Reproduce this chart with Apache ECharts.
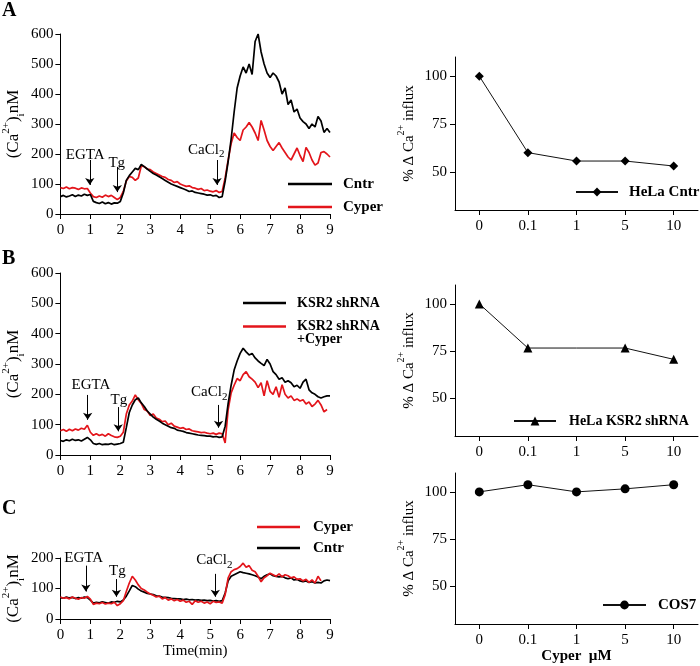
<!DOCTYPE html>
<html><head><meta charset="utf-8">
<script src="https://cdn.jsdelivr.net/npm/echarts@6/dist/echarts.min.js"></script>
<style>html,body{margin:0;padding:0;background:#fff}#c{width:700px;height:666px}</style>
</head><body><div id="c"></div>
<script>
// ---------- DATA ----------
const times = [0,0.1,0.2,0.3,0.4,0.5,0.6,0.7,0.8,0.9,1.0,1.1,1.2,1.3,1.4,1.5,1.6,1.7,1.8,1.9,2.0,2.1,2.2,2.3,2.4,2.5,2.6,2.7,2.8,2.9,3.0,3.1,3.2,3.3,3.4,3.5,3.6,3.7,3.8,3.9,4.0,4.1,4.2,4.3,4.4,4.5,4.6,4.7,4.8,4.9,5.0,5.1,5.2,5.3,5.4,5.5,5.6,5.7,5.8,5.9,6.0,6.1,6.2,6.3,6.4,6.5,6.6,6.7,6.8,6.9,7.0,7.1,7.2,7.3,7.4,7.5,7.6,7.7,7.8,7.9,8.0,8.1,8.2,8.3,8.4,8.5,8.6,8.7,8.8,8.9,9.0];

// Panel A traces (nM)
const aCntr = [58,62,57,60,64,58,63,60,66,62,65, 42,38,35,40,34,38,33,37,36,42, 70,112,128,140,152,148,165,158,150,142, 135,130,124,118,112,106,100,96,92,88, 84,80,75,77,72,70,68,66,63,64, 60,62,55,58,110,175,250,340,420,460, 490,470,500,465,575,600,540,500,470,455, 470,460,440,400,420,365,380,340,350,320, 308,300,285,300,290,325,310,272,285,272];
const aCyper = [88,85,90,84,88,86,82,87,84,85,70, 58,55,60,56,63,58,62,55,48,55, 75,110,125,122,112,120,160,158,150,148, 140,135,130,125,122,115,112,105,108,100, 96,92,94,88,86,82,85,78,80,76, 74,78,72,75,120,180,235,270,255,245, 280,290,305,290,270,245,312,280,245,225, 212,225,238,220,205,190,180,200,220,195, 175,222,205,180,163,170,205,208,200,190];

// Panel B traces (nM)
const bKsr = [48,45,50,47,52,48,50,46,52,58,50, 38,35,38,34,36,35,38,34,36,38, 42,90,140,165,182,188,172,160,145,135, 125,118,112,105,100,95,90,88,82,80, 78,74,72,70,68,66,65,64,62,62, 60,61,58,60,95,170,230,280,310,335, 352,340,330,335,320,310,302,295,315,300, 275,265,250,255,240,245,238,225,230,220, 240,250,215,205,200,192,188,192,195,195];
const bKsrCyper = [80,84,78,85,80,86,82,88,85,98,75, 65,70,64,68,62,70,64,60,58,62, 75,135,165,178,198,182,170,150,145,130, 135,122,118,110,112,100,105,95,92,88, 90,84,86,80,78,76,74,75,72,70, 72,68,72,70,40,150,205,230,252,245, 265,275,258,250,240,222,238,195,245,210, 200,225,190,232,200,188,195,180,185,178, 182,168,175,160,168,180,165,142,150];

// Panel C traces (nM)
const cCyper = [72,68,70,66,72,68,65,70,68,74,65, 48,52,50,54,49,52,50,55,44,50, 60,90,118,140,128,112,100,95,88,82, 78,72,75,66,70,62,66,60,64,58, 62,55,58,48,60,55,58,52,56,50, 58,54,56,52,80,135,155,162,165,172, 183,170,175,160,155,140,122,135,142,150, 145,140,148,138,145,142,135,138,130,132, 125,130,120,128,118,140,125];
const cCntr = [70,68,72,69,71,67,70,68,72,70,62, 52,55,53,56,54,52,56,55,58,56, 62,75,92,110,106,98,92,88,84,82, 80,76,75,72,71,70,68,67,66,66, 64,65,63,64,62,63,61,62,60,61, 59,60,58,60,85,125,140,145,150,155, 152,150,148,145,142,138,132,140,145,148, 142,140,138,140,135,132,135,128,130,125, 122,125,120,122,118,120,118,125,128,126];

// Dose-response panels (% Δ Ca2+ influx)
const doses = ['0','0.1','1','5','10'];
const helaCntr = [100, 60, 55.6, 55.6, 53];
const helaKsr2 = [100, 76.6, 76.6, 76.6, 70.6];
const cos7 = [100, 103.8, 100, 101.6, 103.8];

// Right-panel tick values
const rightTicks = [50,75,100];

// Annotations: text, label position [t, nM], arrow [t, from, to]
const annText = ['EGTA', 'Tg', 'CaCl{s|2}'];
const annA = [[0.83,197],[1.88,170],[4.87,213]];
const arrA = [[0.98,180,97],[1.9,157,73],[5.23,180,97]];
const annB = [[1.02,231],[1.95,181],[4.97,207]];
const arrB = [[0.91,198,116],[1.93,158,78],[5.28,165,90]];
const annC = [[0.78,201],[1.9,157],[5.14,193]];
const arrC = [[0.85,175,90],[1.87,131,73],[5.17,148,73]];

// ---------- CHART ----------
const FONT = "'Liberation Serif','Times New Roman',serif";
const RED = '#e3151b';
const chart = echarts.init(document.getElementById('c'), null, {renderer:'canvas'});

const grids = [
  {left:57.5, top:34, width:272.5, height:180},   // A left
  {left:455, top:57, width:243, height:153},       // A right
  {left:57.5, top:273, width:272.5, height:182},  // B left
  {left:455, top:285, width:243, height:151},      // B right
  {left:57.5, top:558, width:272.5, height:61},   // C left
  {left:455, top:473, width:243, height:151}       // C right
];

const axLine = {show:true, lineStyle:{color:'#000', width:1}};
const axTick = {show:true, length:5, lineStyle:{color:'#000', width:1}};
const lbl = {color:'#000', fontFamily:FONT, fontSize:15};
function supRich(sz){
  return {
    p:{fontSize:sz, lineHeight:sz, verticalAlign:'top', fontFamily:FONT, color:'#000'},
    b:{fontSize:sz, lineHeight:sz, verticalAlign:'bottom', fontFamily:FONT, color:'#000'}
  };
}

function leftX(gi, name){
  const o = {type:'value', gridIndex:gi, min:0, max:9, interval:1,
    axisLine:axLine, axisTick:axTick, splitLine:{show:false},
    axisLabel:Object.assign({margin:9}, lbl)};
  if (name) { o.name = name; o.nameLocation='middle'; o.nameGap=24;
    o.nameTextStyle = {color:'#000', fontFamily:FONT, fontSize:15}; }
  return o;
}
function leftY(gi, max, gap){
  return {type:'value', gridIndex:gi, min:0, max:max, interval:100,
    axisLine:axLine, axisTick:axTick, splitLine:{show:false},
    axisLabel:Object.assign({margin:7}, lbl),
    name:'(Ca{p|2+}){b|i}nM', nameLocation:'middle', nameGap:gap,
    nameTextStyle:{color:'#000', fontFamily:FONT, fontSize:17, lineHeight:26, rich:supRich(11)}};
}
function rightX(gi, name){
  const o = {type:'category', gridIndex:gi, data:doses, boundaryGap:true,
    axisLine:axLine, axisTick:Object.assign({alignWithLabel:true}, axTick),
    splitLine:{show:false}, axisLabel:Object.assign({margin:9}, lbl)};
  if (name) { o.name = name; o.nameLocation='middle'; o.nameGap=25;
    o.nameTextStyle = {color:'#000', fontFamily:FONT, fontSize:15, fontWeight:'bold'}; }
  return o;
}
function rightY(gi){
  return {type:'value', gridIndex:gi, min:30, max:110,
    axisLine:axLine,
    axisTick:Object.assign({customValues:rightTicks}, axTick),
    splitLine:{show:false},
    axisLabel:Object.assign({margin:8, customValues:rightTicks}, lbl),
    name:'% Δ Ca{p|2+} influx', nameLocation:'middle', nameGap:27,
    nameTextStyle:{color:'#000', fontFamily:FONT, fontSize:15, lineHeight:24, rich:supRich(10)}};
}

function trace(name, vals, color, gi, z){
  return {type:'line', name:name, xAxisIndex:gi, yAxisIndex:gi,
    data: vals.map((v,i)=>[times[i], v]), symbol:'none', showSymbol:false,
    lineStyle:{color:color, width:1.7}, itemStyle:{color:color},
    silent:true, animation:false, z:z||2};
}
function dose(name, vals, sym, gi, hideIdx){
  return {type:'line', name:name, xAxisIndex:gi, yAxisIndex:gi,
    data: vals.map((v,i)=> (hideIdx===i ? {value:v, symbol:'none'} : v)),
    symbol:sym, symbolSize:9, showSymbol:true,
    lineStyle:{color:'#111', width:1}, itemStyle:{color:'#000'},
    silent:true, animation:false};
}
function annot(gi, pts, arrows){
  return {type:'scatter', xAxisIndex:gi, yAxisIndex:gi, symbolSize:1, clip:false,
    itemStyle:{color:'rgba(0,0,0,0)', opacity:1}, silent:true, animation:false, z:5,
    data: pts.map((p,i)=>({value:p, label:{formatter:annText[i]}})),
    label:{show:true, position:'inside', color:'#000', opacity:1, fontFamily:FONT, fontSize:15, lineHeight:20,
      rich:{s:{fontSize:11, lineHeight:11, verticalAlign:'bottom', fontFamily:FONT, color:'#000'}}},
    markLine:{silent:true, animation:false, symbol:['none','arrow'], symbolSize:7,
      lineStyle:{color:'#000', width:1, type:'solid', opacity:1}, label:{show:false},
      emphasis:{disabled:true},
      data: arrows.map(a=>[{coord:[a[0],a[1]]},{coord:[a[0],a[2]]}])}};
}

const legBase = {orient:'vertical', padding:0, selectedMode:false,
  textStyle:{color:'#000', fontFamily:FONT, fontWeight:'bold', fontSize:15, lineHeight:17, padding:[0,0,0,6]}};

const option = {
  animation:false,
  grid: grids,
  xAxis: [leftX(0), rightX(1), leftX(2), rightX(3), leftX(4,'Time(min)'), rightX(5,'Cyper  µM')],
  yAxis: [leftY(0,600,30), rightY(1), leftY(2,600,30), rightY(3), leftY(4,200,28), rightY(5)],
  legend: [
    Object.assign({}, legBase, {left:288, top:175.5, icon:'rect', itemWidth:44, itemHeight:2.5, itemGap:6,
      data:['Cntr','Cyper']}),
    Object.assign({}, legBase, {left:575, top:183.5, itemWidth:42, itemHeight:11, data:['HeLa Cntr']}),
    Object.assign({}, legBase, {left:243, top:294.5, icon:'rect', itemWidth:43, itemHeight:2.5,
      textStyle:Object.assign({}, legBase.textStyle, {fontSize:14}), data:['KSR2 shRNA']}),
    Object.assign({}, legBase, {left:243, top:306.5, icon:'rect', itemWidth:43, itemHeight:2.5,
      formatter:()=> ' \nKSR2 shRNA\n+Cyper',
      textStyle:Object.assign({}, legBase.textStyle, {fontSize:14, lineHeight:13}),
      data:['KSR2 shRNA +Cyper']}),
    Object.assign({}, legBase, {left:513, top:412.5, itemWidth:42, itemHeight:11,
      textStyle:Object.assign({}, legBase.textStyle, {fontSize:14, padding:[0,0,0,8]}), data:['HeLa KSR2 shRNA']}),
    Object.assign({}, legBase, {left:257, top:518.5, icon:'rect', itemWidth:43, itemHeight:2.5, itemGap:4,
      textStyle:Object.assign({}, legBase.textStyle, {padding:[0,0,0,8]}), data:['Cyper','Cntr']}),
    Object.assign({}, legBase, {left:602, top:596.5, itemWidth:43, itemHeight:11,
      textStyle:Object.assign({}, legBase.textStyle, {padding:[0,0,0,7]}), data:['COS7']})
  ],
  graphic: [
    {type:'text', left:2, top:1, style:{text:'A', font:"bold 20px 'Liberation Serif'", fill:'#000'}},
    {type:'text', left:2, top:249, style:{text:'B', font:"bold 20px 'Liberation Serif'", fill:'#000'}},
    {type:'text', left:2, top:499, style:{text:'C', font:"bold 20px 'Liberation Serif'", fill:'#000'}}
  ],
  series: [
    trace('Cyper', aCyper, RED, 0, 2),
    trace('Cntr', aCntr, '#000', 0, 3),
    annot(0, annA, arrA),
    dose('HeLa Cntr', helaCntr, 'diamond', 1),
    trace('KSR2 shRNA +Cyper', bKsrCyper, RED, 2, 2),
    trace('KSR2 shRNA', bKsr, '#000', 2, 3),
    annot(2, annB, arrB),
    dose('HeLa KSR2 shRNA', helaKsr2, 'triangle', 3, 2),
    trace('Cntr', cCntr, '#000', 4, 2),
    trace('Cyper', cCyper, RED, 4, 3),
    annot(4, annC, arrC),
    dose('COS7', cos7, 'circle', 5)
  ]
};
chart.setOption(option);
</script>
</body></html>
